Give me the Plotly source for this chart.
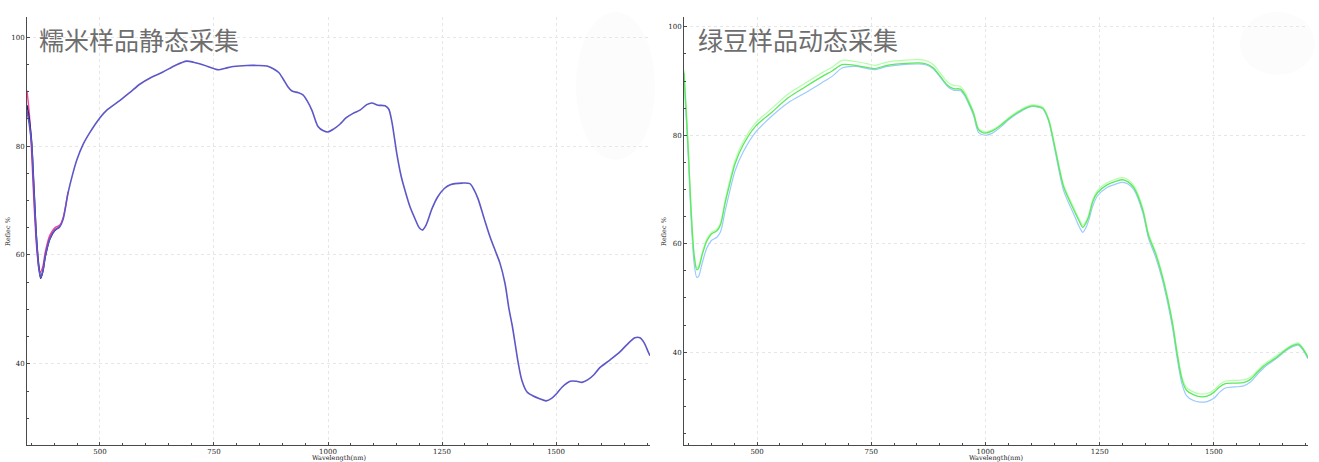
import plotly.graph_objects as go

# ---------------- Left panel: 糯米样品静态采集 ----------------
left_title = "糯米样品静态采集"
left_wl = [340, 345, 350, 355, 361, 366, 370, 375, 380, 390, 401, 412, 419, 430, 440, 449,
           463, 478, 500, 515, 544, 565, 588, 612, 638, 665, 690, 705, 727, 760, 775, 792,
           822, 845, 866, 880, 892, 901, 912, 921, 935, 945, 955, 965, 978, 990, 1000, 1012,
           1026, 1040, 1055, 1070, 1085, 1096, 1110, 1125, 1133, 1140, 1151, 1160, 1169, 1180,
           1191, 1200, 1207, 1215, 1228, 1240, 1255, 1268, 1294, 1311, 1320, 1329, 1342, 1355,
           1368, 1377, 1388, 1397, 1404, 1412, 1417, 1425, 1436, 1450, 1464, 1478, 1491, 1502,
           1513, 1531, 1545, 1557, 1570, 1583, 1596, 1618, 1640, 1655, 1673, 1684, 1693, 1702, 1706]
left_main = [86.5, 84.0, 80.5, 72.0, 62.5, 57.5, 55.9, 57.2, 59.8, 63.0, 64.6, 65.2, 66.5, 71.4, 74.8, 77.4,
             80.3, 82.5, 85.2, 86.6, 88.4, 89.8, 91.4, 92.6, 93.6, 94.8, 95.6, 95.4, 94.9, 94.0, 94.3, 94.6,
             94.8, 94.8, 94.7, 94.2, 93.5, 92.4, 90.9, 90.1, 89.8, 89.4, 88.2, 86.5, 83.6, 82.8, 82.6, 83.1,
             84.0, 85.2, 86.0, 86.6, 87.6, 87.9, 87.5, 87.4, 86.8, 84.5, 78.5, 74.6, 71.8, 68.8,
             66.6, 65.0, 64.6, 65.5, 68.5, 70.6, 72.2, 72.9, 73.2, 73.1, 72.0, 70.3, 66.8, 63.4,
             60.5, 58.5, 54.8, 50.0, 47.0, 42.8, 40.2, 37.0, 34.9, 34.1, 33.6, 33.2, 33.7, 34.6,
             35.7, 36.8, 36.8, 36.6, 37.1, 38.0, 39.3, 40.7, 42.2, 43.5, 44.8, 44.8, 43.9, 42.2, 41.5]
# visible separate heads of the other replicate curves (rest overlaps the main curve)
left_pink_wl = [340, 345, 350, 355, 361, 366, 369, 375, 380, 390, 401, 412, 419, 430]
left_pink = [90.2, 86.0, 79.0, 70.0, 61.5, 57.6, 56.8, 58.0, 60.5, 63.6, 65.0, 65.5, 66.8, 71.6]
left_navy_wl = [340, 345, 350, 355, 361, 366, 370, 375, 380, 390, 401, 412]
left_navy = [87.5, 85.0, 81.0, 73.0, 63.0, 58.0, 55.7, 57.0, 59.6, 62.9, 64.5, 65.1]

# ---------------- Right panel: 绿豆样品动态采集 ----------------
right_title = "绿豆样品动态采集"
right_wl = [340, 345, 350, 355, 362, 368, 372, 380, 390, 400, 412, 420, 430, 440, 452, 470,
            496, 533, 568, 605, 642, 665, 686, 715, 740, 759, 780, 803, 835, 862, 875, 886,
            900, 917, 930, 945, 955, 962, 974, 985, 1000, 1015, 1033, 1050, 1070, 1090, 1103, 1115,
            1125, 1138, 1153, 1171, 1193, 1206, 1213, 1220, 1226, 1235, 1245, 1267, 1285, 1300, 1312, 1325,
            1344, 1357, 1373, 1387, 1399, 1410, 1419, 1430, 1440, 1455, 1470, 1485, 1500, 1512, 1525, 1545,
            1565, 1580, 1595, 1610, 1636, 1660, 1675, 1685, 1695, 1706]
right_green = [91.5, 84.0, 76.0, 67.0, 58.0, 55.2, 55.5, 58.0, 60.5, 61.8, 62.4, 63.5, 67.5, 71.0, 74.8, 78.3,
               81.6, 84.3, 86.9, 88.9, 90.8, 91.9, 93.0, 92.9, 92.5, 92.3, 92.8, 93.1, 93.3, 93.3, 93.0, 92.4,
               91.0, 89.2, 88.6, 88.5, 87.5, 86.3, 84.0, 81.0, 80.4, 80.8, 81.8, 83.0, 84.2, 85.1, 85.4, 85.3,
               85.0, 82.9, 77.3, 70.5, 66.3, 64.0, 63.0, 63.8, 65.0, 67.8, 69.4, 70.9, 71.5, 71.8, 71.4, 70.3,
               66.3, 61.5, 58.0, 54.0, 49.7, 45.0, 40.0, 35.0, 33.0, 32.2, 31.8, 31.9, 32.6, 33.6, 34.2, 34.3,
               34.4, 35.0, 36.3, 37.5, 39.0, 40.6, 41.3, 41.5, 40.6, 39.0]
right_blue = [90.5, 83.0, 75.0, 65.5, 56.5, 53.8, 54.0, 56.5, 59.2, 60.6, 61.2, 62.2, 66.0, 69.6, 73.5, 77.0,
              80.5, 83.6, 86.0, 87.8, 89.7, 90.9, 92.4, 92.7, 92.3, 92.1, 92.6, 92.9, 93.1, 93.1, 92.8, 92.2,
              90.8, 89.0, 88.3, 88.2, 87.2, 86.0, 83.6, 80.5, 80.0, 80.4, 81.5, 82.8, 84.0, 85.0, 85.3, 85.2,
              84.9, 82.6, 76.8, 69.8, 65.5, 63.0, 62.1, 63.0, 64.3, 67.0, 68.8, 70.4, 71.0, 71.3, 71.0, 69.9,
              65.8, 61.0, 57.4, 53.4, 49.0, 44.2, 39.2, 34.2, 32.0, 31.1, 30.8, 30.9, 31.5, 32.6, 33.4, 33.6,
              33.8, 34.5, 35.9, 37.2, 38.8, 40.4, 41.1, 41.3, 40.4, 38.8]
right_light = [92.0, 85.0, 77.0, 67.5, 58.3, 55.6, 55.9, 58.4, 60.9, 62.1, 62.7, 63.9, 68.0, 71.6, 75.4, 78.9,
               82.2, 85.0, 87.6, 89.6, 91.5, 92.6, 93.8, 93.6, 93.2, 92.9, 93.4, 93.7, 93.9, 93.9, 93.6, 93.0,
               91.6, 89.8, 89.2, 89.0, 87.9, 86.7, 84.3, 81.2, 80.6, 81.0, 82.0, 83.2, 84.4, 85.3, 85.6, 85.5,
               85.2, 83.1, 77.6, 70.9, 66.7, 64.4, 63.4, 64.2, 65.4, 68.2, 69.8, 71.3, 71.9, 72.2, 71.8, 70.7,
               66.7, 61.9, 58.4, 54.4, 50.1, 45.4, 40.5, 35.5, 33.5, 32.7, 32.3, 32.4, 33.0, 34.0, 34.7, 34.8,
               34.9, 35.4, 36.6, 37.8, 39.3, 40.8, 41.5, 41.7, 40.8, 39.2]

x_ticks = [500, 750, 1000, 1250, 1500]
y_ticks = [40, 60, 80, 100]
x_title = "Wavelength(nm)"
y_title = "Reflec %"

W, H = 1319, 462
def px(x): return x / W
def py(y): return 1 - y / H

fig = go.Figure()
sp = dict(mode="lines", line_shape="spline", showlegend=False, hoverinfo="skip")
fig.add_trace(go.Scatter(x=left_pink_wl, y=left_pink, line=dict(color="#ff3d9a", width=1.4, smoothing=0.8), xaxis="x", yaxis="y", **sp))
fig.add_trace(go.Scatter(x=left_navy_wl, y=left_navy, line=dict(color="#20206e", width=1.4, smoothing=0.8), xaxis="x", yaxis="y", **sp))
fig.add_trace(go.Scatter(x=left_wl, y=left_main, line=dict(color="#5d57c8", width=1.6, smoothing=0.8), xaxis="x", yaxis="y", **sp))

fig.add_trace(go.Scatter(x=right_wl, y=right_blue, line=dict(color="#9ccaff", width=1.2, smoothing=0.8), xaxis="x2", yaxis="y2", **sp))
fig.add_trace(go.Scatter(x=right_wl, y=right_light, line=dict(color="#b2ffaa", width=1.2, smoothing=0.8), xaxis="x2", yaxis="y2", **sp))
fig.add_trace(go.Scatter(x=right_wl, y=right_green, line=dict(color="#5de85d", width=1.3, smoothing=0.8), xaxis="x2", yaxis="y2", **sp))

tickfont = dict(family="DejaVu Serif", size=7, color="#222222")
common_x = dict(tickvals=x_ticks, showgrid=True, gridcolor="#e6e6e6", griddash="dot", gridwidth=1,
                showline=True, linecolor="#4a4a4a", linewidth=1, ticks="inside", ticklen=3, tickcolor="#4a4a4a",
                minor=dict(dtick=50, tick0=0, ticks="inside", ticklen=2, tickcolor="#4a4a4a", showgrid=False),
                tickfont=tickfont, zeroline=False, automargin=False, fixedrange=True, ticklabelstandoff=0)
common_y = dict(tickvals=y_ticks, showgrid=True, gridcolor="#e6e6e6", griddash="dot", gridwidth=1,
                showline=True, linecolor="#4a4a4a", linewidth=1, ticks="inside", ticklen=3, tickcolor="#4a4a4a",
                minor=dict(dtick=5, tick0=0, ticks="inside", ticklen=2, tickcolor="#4a4a4a", showgrid=False),
                tickfont=tickfont, zeroline=False, automargin=False, fixedrange=True)

fig.update_layout(
    width=W, height=H, margin=dict(l=0, r=0, t=0, b=0),
    paper_bgcolor="white", plot_bgcolor="white",
    xaxis=dict(domain=[px(27), px(650)], range=[340, 1706], anchor="y", **common_x),
    yaxis=dict(domain=[py(445), py(17)], range=[25.1, 103.7], anchor="x", **common_y),
    xaxis2=dict(domain=[px(684), px(1308)], range=[340, 1706], anchor="y2", **common_x),
    yaxis2=dict(domain=[py(445), py(17)], range=[22.9, 101.8], anchor="x2", **common_y),
)

# very faint background blobs
fig.add_shape(type="circle", xref="paper", yref="paper", x0=px(576), x1=px(655), y0=py(160), y1=py(12),
              fillcolor="#fcfcfc", line_width=0, layer="below")
fig.add_shape(type="circle", xref="paper", yref="paper", x0=px(1240), x1=px(1315), y0=py(75), y1=py(12),
              fillcolor="#fcfcfc", line_width=0, layer="below")

title_font = dict(family="Noto Sans CJK SC", size=25, color="#6e6e6e")
fig.add_annotation(text=left_title, xref="paper", yref="paper", x=px(37), y=py(39),
                   xanchor="left", yanchor="middle", showarrow=False, font=title_font)
fig.add_annotation(text=right_title, xref="paper", yref="paper", x=px(696), y=py(39),
                   xanchor="left", yanchor="middle", showarrow=False, font=title_font)

lab_font = dict(family="DejaVu Serif", size=6.5, color="#222222")
for cx in [(27 + 650) / 2, (684 + 1308) / 2]:
    fig.add_annotation(text=x_title, xref="paper", yref="paper", x=px(cx), y=0,
                       xanchor="center", yanchor="bottom", showarrow=False, font=lab_font,
                       borderpad=0, yshift=-1)
for cx in [8, 664]:
    fig.add_annotation(text=y_title, xref="paper", yref="paper", x=px(cx), y=py(232), textangle=-90,
                       xanchor="center", yanchor="middle", showarrow=False, font=lab_font)

# remove the default page margin so the figure sits at the window's top-left corner
fig.write_html("out.html", config={"displayModeBar": False},
               post_script="document.body.style.margin='0';document.body.style.overflow='hidden';")
